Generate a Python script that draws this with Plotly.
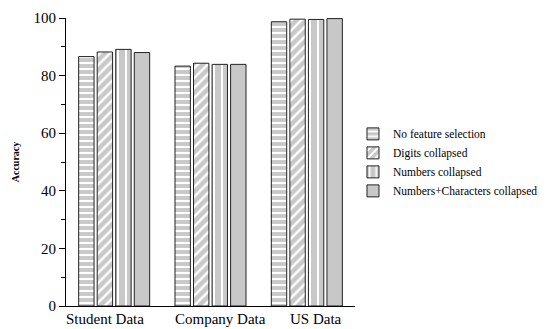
import plotly.graph_objects as go

categories = ["Student Data", "Company Data", "US Data"]
series_names = ["No feature selection", "Digits collapsed", "Numbers collapsed", "Numbers+Characters collapsed"]
no_feature = [86.6, 83.3, 98.7]
digits = [88.2, 84.3, 99.6]
numbers = [89.1, 83.9, 99.5]
numbers_chars = [88.0, 83.9, 99.8]
y_ticks = [0, 20, 40, 60, 80, 100]
label_shift = [-9, 10, 9]

values = [no_feature, digits, numbers, numbers_chars]
GRAY = "#c8c8c8"
patterns = [
    dict(shape="-", bgcolor=GRAY, fgcolor="white", size=6, solidity=0.35, fillmode="replace"),
    dict(shape="/", bgcolor=GRAY, fgcolor="white", size=7, solidity=0.35, fillmode="replace"),
    dict(shape="|", bgcolor=GRAY, fgcolor="white", size=8, solidity=0.25, fillmode="replace"),
    dict(shape="", bgcolor=GRAY),
]

fig = go.Figure()
for name, vals, pat in zip(series_names, values, patterns):
    marker = dict(color=GRAY, line=dict(color="#222222", width=1))
    if pat["shape"]:
        marker["pattern"] = pat
    fig.add_trace(go.Bar(x=categories, y=vals, name=name, marker=marker))

for cat, dx in zip(categories, label_shift):
    fig.add_annotation(x=cat, y=0, xref="x", yref="y", text=cat, showarrow=False,
                       xanchor="center", yanchor="top", yshift=-3, xshift=dx,
                       font=dict(size=15, family="Liberation Serif", color="black"))

fig.update_layout(
    width=546, height=329,
    margin=dict(l=66, r=191, t=18, b=23, autoexpand=False),
    paper_bgcolor="white", plot_bgcolor="white",
    barmode="group", bargap=0.23, bargroupgap=0.17,
    font=dict(family="Liberation Serif", color="black"),
    showlegend=True,
    legend=dict(x=0.993, y=0.648, xanchor="left", yanchor="top",
                font=dict(size=11.5, family="Liberation Serif"),
                bgcolor="rgba(0,0,0,0)", tracegroupgap=0, itemwidth=30),
    xaxis=dict(showline=True, linecolor="black", linewidth=1, ticks="",
               showticklabels=False, range=[-0.5, 2.5], automargin=False),
    yaxis=dict(range=[0, 100], tickvals=y_ticks, showline=True, linecolor="black",
               linewidth=1, ticks="outside", ticklen=6, tickcolor="black",
               showgrid=False, zeroline=False, tickfont=dict(size=15), automargin=False,
               minor=dict(dtick=10, ticks="outside", ticklen=4, tickcolor="black"),
               title=dict(text="<b>Accuracy</b>", font=dict(size=10), standoff=12)),
)

fig.write_html("out.html", config={"displayModeBar": False},
               post_script="document.body.style.margin='0';document.body.style.overflow='hidden';")
